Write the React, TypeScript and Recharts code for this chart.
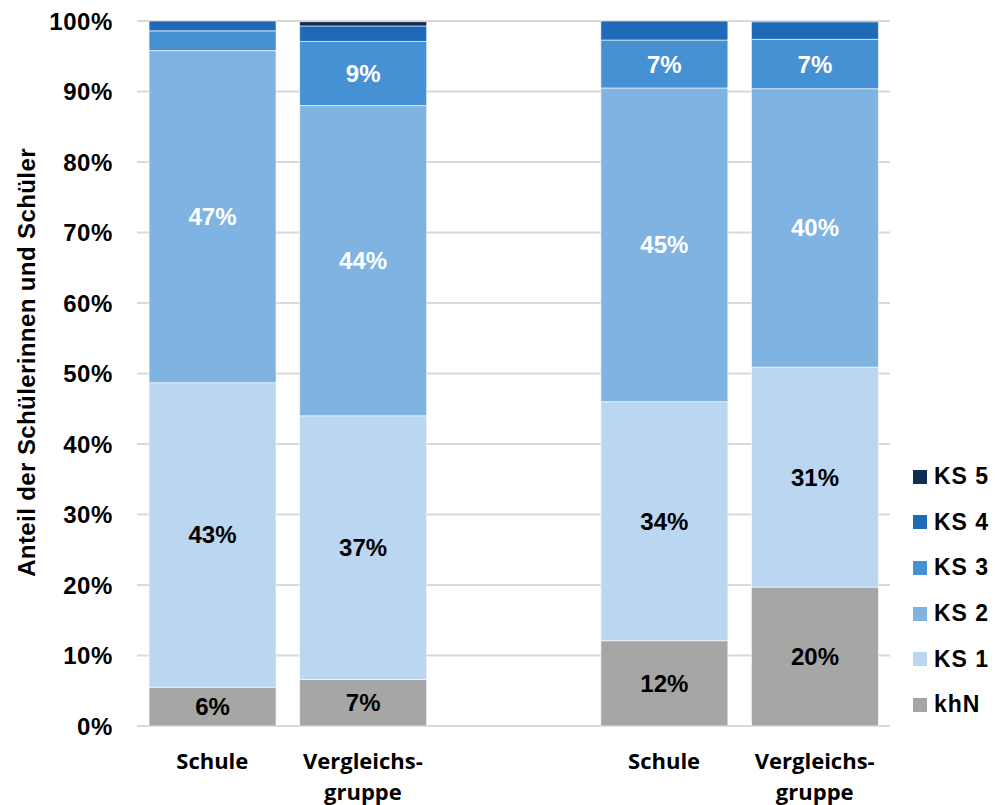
import React from "react";
import { BarChart, Bar, XAxis, YAxis, CartesianGrid, LabelList } from "recharts";

const categories = ["Schule", "Vergleichs-\ngruppe", "", "Schule", "Vergleichs-\ngruppe"];
const khN = [5.5, 6.6, null, 12.1, 19.7];
const ks1 = [43.2, 37.4, null, 33.9, 31.2];
const ks2 = [47.1, 44.0, null, 44.5, 39.5];
const ks3 = [2.8, 9.1, null, 6.8, 7.0];
const ks4 = [1.4, 2.2, null, 2.7, 2.5];
const ks5 = [0, 0.6, null, 0, 0.1];
const yTicks = [0, 10, 20, 30, 40, 50, 60, 70, 80, 90, 100];

const series = [
  { key: "khN", name: "khN", values: khN, color: "#a6a6a6", labelColor: "#000" },
  { key: "ks1", name: "KS 1", values: ks1, color: "#bad6f0", labelColor: "#000" },
  { key: "ks2", name: "KS 2", values: ks2, color: "#7fb3e1", labelColor: "#fff" },
  { key: "ks3", name: "KS 3", values: ks3, color: "#4691d4", labelColor: "#fff" },
  { key: "ks4", name: "KS 4", values: ks4, color: "#1f6ab8", labelColor: "#fff" },
  { key: "ks5", name: "KS 5", values: ks5, color: "#0e2d50", labelColor: "#fff" },
];

const data = categories.map((c, i) => {
  const row: any = { cat: c, id: i };
  series.forEach((s) => {
    row[s.key] = s.values[i];
  });
  return row;
});

const FONT = "'Liberation Sans', Arial, sans-serif";

const XTick = (props: any) => {
  const { x, y, payload } = props;
  const lines = String(payload.value).split("\n");
  return (
    <text x={x} y={y} textAnchor="middle" fontFamily="'Open Sans', sans-serif" fontWeight={700} fontSize={22} fill="#000">
      {lines.map((l, i) => (
        <tspan key={i} x={x} dy={i === 0 ? 35 : 31}>
          {l}
        </tspan>
      ))}
    </text>
  );
};

const makeLabel = (color: string) => (props: any) => {
  const { x, y, width, height, value } = props;
  if (value == null || value < 5) return null;
  return (
    <text
      x={x + width / 2}
      y={y + height / 2}
      textAnchor="middle"
      dominantBaseline="central"
      fontFamily={FONT}
      fontWeight={700}
      fontSize={24}
      fill={color}
    >
      {Math.round(value)}%
    </text>
  );
};

const LegendBox = () => (
  <div
    style={{
      position: "absolute",
      left: 913,
      top: 454,
      width: 82,
      fontFamily: FONT,
      fontWeight: 700,
      fontSize: 23,
      letterSpacing: 1,
      color: "#000",
    }}
  >
    {[...series].reverse().map((s) => (
      <div key={s.key} style={{ display: "flex", alignItems: "center", height: 45.6, whiteSpace: "nowrap" }}>
        <span style={{ display: "inline-block", width: 14, height: 14, background: s.color, marginRight: 7, flex: "none" }} />
        <span>{s.name}</span>
      </div>
    ))}
  </div>
);

const YLabel = (props: any) => {
  const vb = props.viewBox || {};
  const cy = vb.y + vb.height / 2 - 11;
  const cx = 26;
  return (
    <text
      x={cx}
      y={cy}
      transform={`rotate(-90, ${cx}, ${cy})`}
      textAnchor="middle"
      dominantBaseline="central"
      fontFamily={FONT}
      fontWeight={700}
      fontSize={24}
      letterSpacing={0.4}
      fill="#000"
    >
      Anteil der Schülerinnen und Schüler
    </text>
  );
};

export default function App() {
  return (
    <div style={{ position: "absolute", left: 0, top: 0, width: 995, height: 805, background: "#fff" }}>
      <BarChart
        width={995}
        height={805}
        data={data}
        margin={{ top: 21, right: 105, bottom: 49, left: 0 }}
        barCategoryGap="8%"
      >
        <CartesianGrid horizontal vertical={false} stroke="#d9d9d9" strokeWidth={2} />
        <XAxis
          dataKey="cat"
          axisLine={false}
          tickLine={false}
          interval={0}
          tick={<XTick />}
        />
        <YAxis
          width={137}
          domain={[0, 100]}
          ticks={yTicks}
          axisLine={false}
          tickLine={false}
          tickSize={0}
          tickMargin={24}
          tickFormatter={(v: number) => `${v}%`}
          tick={{ fontFamily: FONT, fontWeight: 700, fontSize: 24, fill: "#000", letterSpacing: 0.6 }}
          label={<YLabel />}
        />
        {series.map((s) => (
          <Bar
            key={s.key}
            dataKey={s.key}
            name={s.name}
            stackId="a"
            fill={s.color}
            stroke="#ffffff"
            strokeWidth={0.6}
            isAnimationActive={false}
          >
            <LabelList dataKey={s.key} content={makeLabel(s.labelColor)} />
          </Bar>
        ))}
      </BarChart>
      <LegendBox />
    </div>
  );
}
